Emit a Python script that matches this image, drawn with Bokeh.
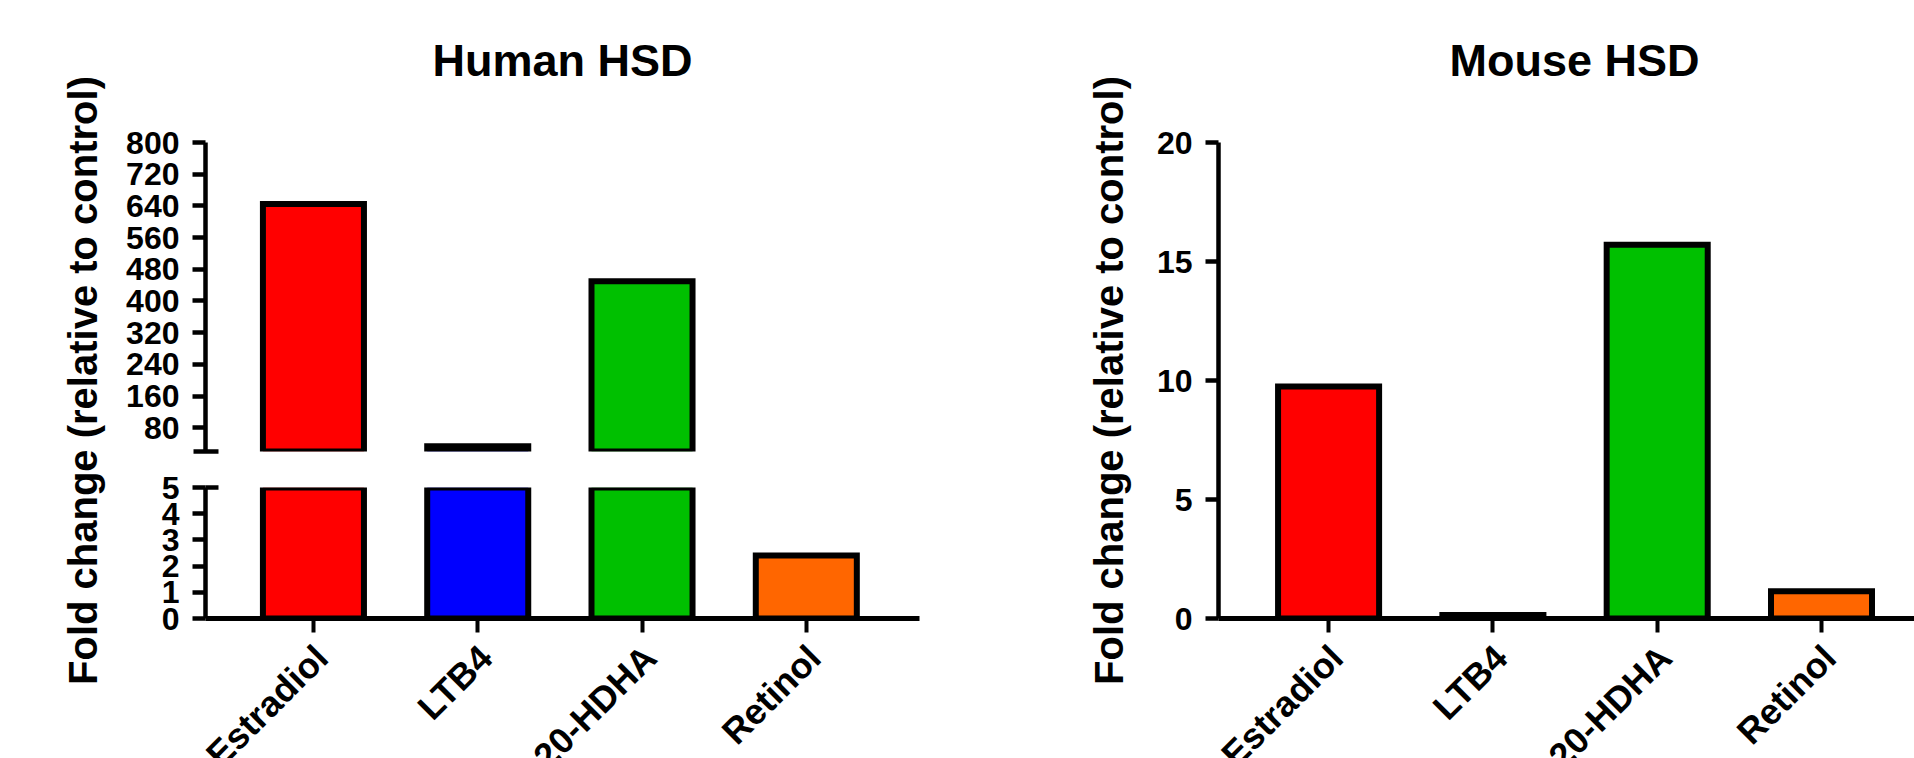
from math import pi

from bokeh.plotting import figure
from bokeh.models import Range1d, FixedTicker
from bokeh.layouts import row, column
from bokeh.core.properties import value
from bokeh.embed import file_html
from bokeh.resources import INLINE

# ---------------- data ----------------
categories = ["Estradiol", "LTB4", "20-HDHA", "Retinol"]
bar_colors = ["#FF0000", "#0000FF", "#00C000", "#FF6600"]
human_values = [645, 33, 450, 2.4]
mouse_values = [9.75, 0.15, 15.7, 1.15]
human_upper_ticks = [80, 160, 240, 320, 400, 480, 560, 640, 720, 800]
human_upper_range = [20, 800]
human_lower_ticks = [0, 1, 2, 3, 4, 5]
mouse_ticks = [0, 5, 10, 15, 20]
titles = ["Human HSD", "Mouse HSD"]
y_label = "Fold change (relative to control)"

FONT = "Liberation Sans"
xs = list(range(len(categories)))
BAR_W = 0.615

# layout (pixels)
H = 758
TITLE_H = 100          # title strip height
FRAME_TOP = 142        # y of the top of the plotting frames
AXIS_Y = 618           # y of the x axis
STRIP_TOP = 640        # y where the x-label strip starts
LEFT_W, COL_W = 120, 880
RLAB_W, RIGHT_W = 140, 774
H_BL, H_BR = 85, 81    # human frame borders (left / right)
M_BL = 78              # mouse frame left border


def base_fig(**kw):
    p = figure(toolbar_location=None, output_backend="svg", frame_align=False, **kw)
    p.outline_line_color = None
    p.background_fill_color = "white"
    p.border_fill_color = "white"
    p.xgrid.visible = False
    p.ygrid.visible = False
    return p


def strip_fig(width, height, x_range, y_range):
    return base_fig(width=width, height=height, x_range=x_range, y_range=y_range,
                    x_axis_location=None, y_axis_location=None,
                    min_border=0, min_border_left=0, min_border_right=0,
                    min_border_top=0, min_border_bottom=0)


def ylabel_fig(width, border_left):
    f = base_fig(width=width, height=H, x_range=Range1d(0, 1),
                 y_range=Range1d(0, 1), x_axis_location=None,
                 min_border_left=border_left, min_border_right=0,
                 min_border_top=FRAME_TOP, min_border_bottom=H - AXIS_Y)
    ax = f.yaxis[0]
    ax.ticker = FixedTicker(ticks=[])
    ax.axis_line_color = None
    ax.major_tick_line_color = None
    ax.minor_tick_line_color = None
    ax.major_tick_out = 0
    ax.major_label_standoff = 0
    ax.major_label_text_font_size = "0px"
    ax.axis_label = y_label
    ax.axis_label_text_font = FONT
    ax.axis_label_text_font_size = "40px"
    ax.axis_label_text_font_style = "bold"
    ax.axis_label_text_color = "black"
    ax.axis_label_standoff = 6
    return f


def style_y(axis, ticks, minor=None, minor_in=0, minor_out=0):
    axis.ticker = FixedTicker(ticks=ticks, minor_ticks=minor or [])
    axis.axis_line_width = 4.5
    axis.axis_line_color = "black"
    axis.major_tick_line_width = 4.5
    axis.major_tick_line_color = "black"
    axis.major_tick_out = 13
    axis.major_tick_in = 0
    axis.minor_tick_line_width = 4.5
    axis.minor_tick_line_color = "black"
    axis.minor_tick_in = minor_in
    axis.minor_tick_out = minor_out
    axis.major_label_text_font = FONT
    axis.major_label_text_font_size = "32px"
    axis.major_label_text_font_style = "bold"
    axis.major_label_text_color = "black"
    axis.major_label_standoff = 13


def style_x(p):
    ax = p.xaxis[0]
    ax.ticker = FixedTicker(ticks=xs)
    ax.major_label_overrides = {i: "" for i in xs}
    ax.major_label_text_font_size = "0px"
    ax.major_label_standoff = 0
    ax.axis_line_width = 5
    ax.axis_line_color = "black"
    ax.major_tick_line_width = 4
    ax.major_tick_line_color = "black"
    ax.major_tick_out = 14
    ax.major_tick_in = 0
    ax.minor_tick_line_color = None


def bars(p, xv, values):
    cols = [bar_colors[xs.index(x)] for x in xv]
    p.vbar(x=xv, top=values, bottom=0, width=BAR_W, fill_color=cols,
           line_color="black", line_width=6, line_join="miter")


def title_strip(width, full_range, frame_range, text, x_offset):
    # y measured in pixels above the plotting frame's top
    s = strip_fig(width, TITLE_H, full_range,
                  Range1d(FRAME_TOP - TITLE_H, FRAME_TOP))
    mid = (frame_range.start + frame_range.end) / 2
    s.text(x=[mid], y=[FRAME_TOP - 60], text=[text], x_offset=x_offset,
           text_align="center", text_baseline="alphabetic",
           text_font=value(FONT), text_font_size=value("45px"),
           text_font_style="bold", text_color="black")
    return s


def label_strip(width, full_range):
    # y measured in pixels relative to the x axis (negative = below)
    s = strip_fig(width, H - STRIP_TOP, full_range,
                  Range1d(AXIS_Y - H, AXIS_Y - STRIP_TOP))
    s.text(x=xs, y=[-33] * len(xs), text=categories, angle=pi / 4,
           x_offset=8, text_align="right", text_baseline="alphabetic",
           text_font=value(FONT), text_font_size=value("36px"),
           text_font_style="bold", text_color="black")
    return s


# ---------------- Human HSD (broken y axis) ----------------
human_x = Range1d(-0.657, 3.689)
h_px = (COL_W - H_BL - H_BR) / (human_x.end - human_x.start)
human_full = Range1d(human_x.start - H_BL / h_px, human_x.end + H_BR / h_px)

BREAK_TOP, BREAK_BOTTOM = 451, 487   # pixel extent of the axis break

top = base_fig(width=COL_W, height=BREAK_TOP + 17 - TITLE_H, x_range=human_x,
               y_range=Range1d(*human_upper_range), x_axis_location=None,
               min_border_left=H_BL, min_border_right=H_BR,
               min_border_top=FRAME_TOP - TITLE_H, min_border_bottom=17)
upper = [(x, v) for x, v in zip(xs, human_values) if v > human_upper_range[0]]
bars(top, [u[0] for u in upper], [u[1] for u in upper])
style_y(top.yaxis[0], human_upper_ticks, minor=[human_upper_range[0]],
        minor_in=13, minor_out=12)

bottom = base_fig(width=COL_W, height=STRIP_TOP - (BREAK_TOP + 17), x_range=human_x,
                  y_range=Range1d(human_lower_ticks[0], human_lower_ticks[-1]),
                  min_border_left=H_BL, min_border_right=H_BR,
                  min_border_top=BREAK_BOTTOM - (BREAK_TOP + 17),
                  min_border_bottom=STRIP_TOP - AXIS_Y)
bars(bottom, xs, human_values)
style_y(bottom.yaxis[0], human_lower_ticks, minor=[human_lower_ticks[-1]],
        minor_in=13, minor_out=0)
style_x(bottom)

left_col = column(title_strip(COL_W, human_full, human_x, titles[0], 0),
                  top, bottom, label_strip(COL_W, human_full))

# ---------------- Mouse HSD ----------------
mouse_x = Range1d(-0.67, 3.566)
m_px = (RIGHT_W - M_BL) / (mouse_x.end - mouse_x.start)
mouse_full = Range1d(mouse_x.start - M_BL / m_px, mouse_x.end)

right = base_fig(width=RIGHT_W, height=STRIP_TOP - TITLE_H, x_range=mouse_x,
                 y_range=Range1d(mouse_ticks[0], mouse_ticks[-1]),
                 min_border_left=M_BL, min_border_right=0,
                 min_border_top=FRAME_TOP - TITLE_H,
                 min_border_bottom=STRIP_TOP - AXIS_Y)
bars(right, xs, mouse_values)
style_y(right.yaxis[0], mouse_ticks)
style_x(right)

right_col = column(title_strip(RIGHT_W, mouse_full, mouse_x, titles[1], 8),
                   right, label_strip(RIGHT_W, mouse_full))

layout = row(ylabel_fig(LEFT_W, 110), left_col,
             ylabel_fig(RLAB_W, 136), right_col)

open("out.html", "w").write(file_html(layout, INLINE))
